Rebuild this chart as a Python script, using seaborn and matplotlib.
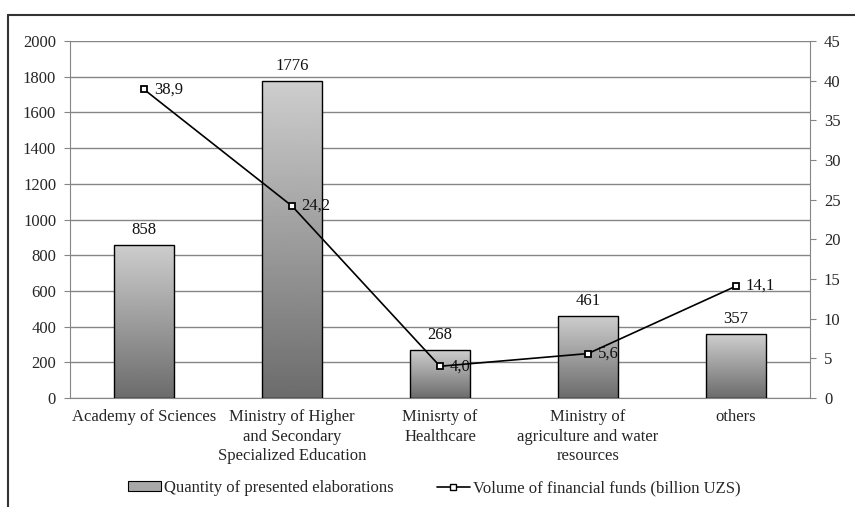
import matplotlib
matplotlib.use('Agg')
import matplotlib.pyplot as plt
import seaborn as sns
import numpy as np
import pandas as pd
from matplotlib.lines import Line2D
from matplotlib.patches import Patch

# Data
categories = ['Academy of Sciences',
              'Ministry of Higher\nand Secondary\nSpecialized Education',
              'Minisrty of\nHealthcare',
              'Ministry of\nagriculture and water\nresources',
              'others']
elaborations = [858, 1776, 268, 461, 357]
funds = [38.9, 24.2, 4.0, 5.6, 14.1]
fund_labels = ['38,9', '24,2', '4,0', '5,6', '14,1']

df = pd.DataFrame({'category': categories, 'elaborations': elaborations})

sns.set_style('white')
plt.rcParams['font.family'] = ['Liberation Serif', 'DejaVu Serif']
plt.rcParams['font.size'] = 12
fs = 12

fig = plt.figure(figsize=(8.55, 5.07), dpi=100)
ax = fig.add_axes([70 / 855, 1 - 398 / 507, 740 / 855, 357 / 507])

sns.barplot(data=df, x='category', y='elaborations', ax=ax, width=0.4,
            color='#a0a0a0', edgecolor='black', linewidth=1.0)

# gradient fill inside every bar (light top, dark bottom)
grad = np.linspace(0, 1, 256).reshape(-1, 1)
for p in ax.patches:
    x0, y0 = p.get_x(), p.get_y()
    w, h = p.get_width(), p.get_height()
    im = ax.imshow(grad, cmap='gray', vmin=-1.1, vmax=1.5, aspect='auto',
                   extent=[x0, x0 + w, y0, y0 + h], origin='lower', zorder=2)
    im.set_clip_path(p)
    p.set_facecolor('none')
    p.set_zorder(3)

for i, v in enumerate(elaborations):
    ax.annotate(str(v), (i, v), xytext=(0, 5), textcoords='offset points',
                ha='center', va='bottom', fontsize=fs, color='#111111')

ax.set_xlim(-0.5, 4.5)
ax.set_ylim(0, 2000)
ax.set_yticks(np.arange(0, 2001, 200))
ax.yaxis.grid(True, color='#858585', linewidth=1.0)
ax.set_axisbelow(True)
ax.set_xlabel('')
ax.set_ylabel('')
ax.set_xticks(np.arange(-0.5, 5, 1), minor=True)
ax.tick_params(axis='x', which='major', length=0, pad=8, labelsize=fs)
ax.tick_params(axis='x', which='minor', length=5, color='#858585', width=1)
ax.tick_params(axis='y', length=4, color='#858585', labelsize=fs, pad=6)
for lab in ax.get_xticklabels():
    lab.set_linespacing(1.3)
for s in ['left', 'bottom', 'right']:
    ax.spines[s].set_color('#858585')
ax.spines['top'].set_visible(False)

# secondary axis with the funds line
ax2 = ax.twinx()
ax2.plot(range(len(funds)), funds, color='black', linewidth=1.2, marker='s',
         markersize=5, markerfacecolor='white', markeredgecolor='black',
         markeredgewidth=1.3, zorder=5)
for i, (v, lab) in enumerate(zip(funds, fund_labels)):
    ax2.annotate(lab, (i, v), xytext=(7, 0), textcoords='offset points',
                 ha='left', va='center', fontsize=fs, color='#111111')
ax2.set_ylim(0, 45)
ax2.set_yticks(np.arange(0, 46, 5))
ax2.tick_params(axis='y', length=4, color='#858585', labelsize=fs, pad=6)
for s in ['left', 'bottom', 'right', 'top']:
    ax2.spines[s].set_visible(False)

# legend below the chart
handles = [Patch(facecolor='#a8a8a8', edgecolor='black', linewidth=0.8),
           Line2D([0], [0], color='black', linewidth=1.2, marker='s', markersize=5,
                  markerfacecolor='white', markeredgecolor='black')]
labels = ['Quantity of presented elaborations', 'Volume of financial funds (billion UZS)']
fig.legend(handles, labels, loc='center', bbox_to_anchor=(434 / 855, 1 - 488 / 507),
           ncol=2, frameon=False, fontsize=fs, handlelength=2.0, handleheight=0.5,
           handletextpad=0.15, columnspacing=2.6)

# outer frame (partially cropped in the reference)
fx = 8 / 855
fy = 1 - 15 / 507
fig.add_artist(Line2D([fx, 1], [fy, fy], color='#333333', linewidth=1.5))
fig.add_artist(Line2D([fx, fx], [0, fy], color='#333333', linewidth=1.5))

fig.savefig('out.png', dpi=100)
